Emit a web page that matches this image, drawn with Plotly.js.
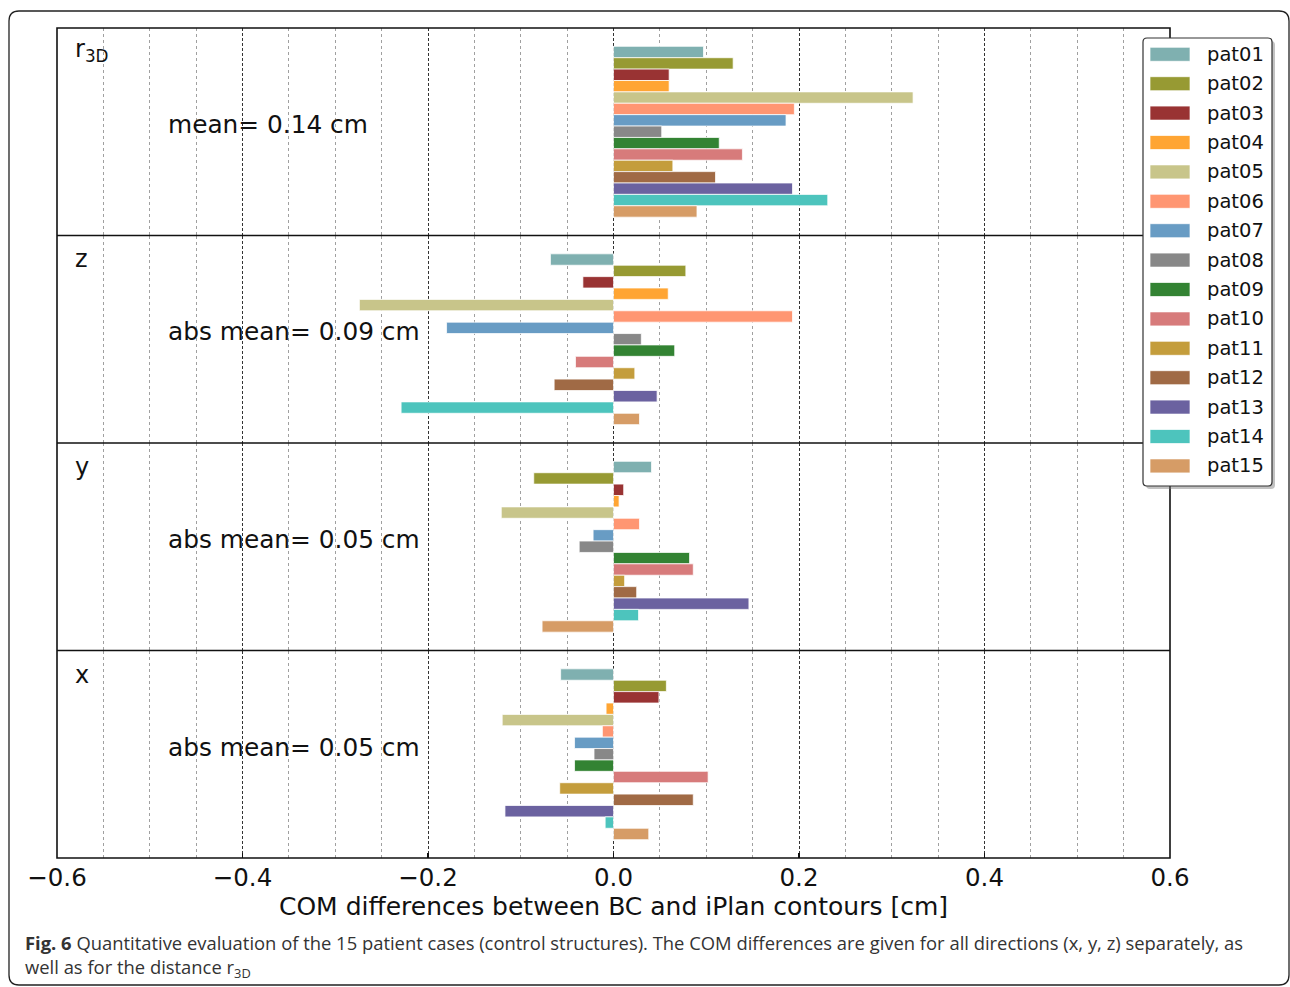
<!DOCTYPE html>
<html>
<head>
<meta charset="utf-8">
<script src="https://cdn.plot.ly/plotly-3.0.1.min.js"></script>
<style>html,body{margin:0;padding:0;background:#fff;}#chart{width:1290px;height:987px;}</style>
</head>
<body>
<div id="chart"></div>
<script>
// ---- data ----
const patients = ['pat01','pat02','pat03','pat04','pat05','pat06','pat07','pat08','pat09','pat10','pat11','pat12','pat13','pat14','pat15'];
const colors = ['#7FB0B0','#979A33','#993333','#FFA533','#C8C58A','#FF9672','#689CC4','#888888','#338333','#D77B7B','#C49D3C','#A06A45','#6B62A0','#4DC4BD','#D69C66'];
const panelNames = ['r<sub>3D</sub>','z','y','x'];
const meanLabels = ['mean= 0.14 cm','abs mean= 0.09 cm','abs mean= 0.05 cm','abs mean= 0.05 cm'];
const r3d   = [0.097,0.129,0.060,0.060,0.323,0.195,0.186,0.052,0.114,0.139,0.064,0.110,0.193,0.231,0.090];
const zDiff = [-0.068,0.078,-0.033,0.059,-0.274,0.193,-0.180,0.030,0.066,-0.041,0.023,-0.064,0.047,-0.229,0.028];
const yDiff = [0.041,-0.086,0.011,0.006,-0.121,0.028,-0.022,-0.037,0.082,0.086,0.012,0.025,0.146,0.027,-0.077];
const xDiff = [-0.057,0.057,0.049,-0.008,-0.120,-0.012,-0.042,-0.021,-0.042,0.102,-0.058,0.086,-0.117,-0.009,0.038];
const xTitle = 'COM differences between BC and iPlan contours [cm]';
const captionLine1 = '<b>Fig. 6</b> Quantitative evaluation of the 15 patient cases (control structures). The COM differences are given for all directions (x, y, z) separately, as';
const captionLine2 = 'well as for the distance r<sub>3D</sub>';

const panelValues = [r3d, zDiff, yDiff, xDiff];

// ---- geometry helpers (pixel -> paper) ----
const W = 1290, H = 987;
const mL = 57, mR = 120, mT = 28, mB = 129;
const pw = W - mL - mR, ph = H - mT - mB;
const px = x => (x - mL) / pw;
const py = y => (H - mB - y) / ph;

function roundRect(x0, y0, x1, y1, r) {
  const P = (x, y) => px(x).toFixed(5) + ',' + py(y).toFixed(5);
  return 'M' + P(x0 + r, y0) + ' L' + P(x1 - r, y0) + ' Q' + P(x1, y0) + ' ' + P(x1, y0 + r) +
    ' L' + P(x1, y1 - r) + ' Q' + P(x1, y1) + ' ' + P(x1 - r, y1) +
    ' L' + P(x0 + r, y1) + ' Q' + P(x0, y1) + ' ' + P(x0, y1 - r) +
    ' L' + P(x0, y0 + r) + ' Q' + P(x0, y0) + ' ' + P(x0 + r, y0) + ' Z';
}

const FONT = 'DejaVu Sans';
const traces = [];
panelValues.forEach((vals, k) => {
  patients.forEach((name, i) => {
    traces.push({
      type: 'bar', orientation: 'h',
      x: [vals[i]], y: [i], width: 1,
      name: name, legendgroup: name, showlegend: false,
      yaxis: k === 0 ? 'y' : 'y' + (k + 1), xaxis: 'x',
      marker: {color: colors[i], line: {color: 'rgba(255,255,255,0.75)', width: 1}},
      hovertemplate: name + ': %{x:.3f}<extra></extra>'
    });
  });
});

const yRange = [patients.length - 1 + 2.11, -2.11];
const yBase = {range: yRange, showticklabels: false, showgrid: false, zeroline: false, ticks: '', anchor: 'x', showline: false, fixedrange: true};

const shapes = [];
const annotations = [];

// outer figure frame
shapes.push({type: 'path', xref: 'paper', yref: 'paper', path: roundRect(9, 11, 1289, 985, 10), line: {color: '#222', width: 1.3}, fillcolor: 'rgba(0,0,0,0)', layer: 'below'});
// plot frame + panel separators
shapes.push({type: 'rect', xref: 'paper', yref: 'paper', x0: 0, x1: 1, y0: 0, y1: 1, line: {color: '#111', width: 1.6}, layer: 'above'});
[0.25, 0.5, 0.75].forEach(v => shapes.push({type: 'line', xref: 'paper', yref: 'paper', x0: 0, x1: 1, y0: v, y1: v, line: {color: '#111', width: 1.6}, layer: 'above'}));

// panel labels and mean labels
const panelTops = [50, 259, 467, 675];
const meanY = [124, 331, 539, 747];
panelNames.forEach((t, k) => {
  annotations.push({xref: 'paper', yref: 'paper', x: px(73), y: py(panelTops[k]), xanchor: 'left', yanchor: 'middle', text: t, showarrow: false, font: {family: FONT, size: 24, color: '#111'}});
  annotations.push({xref: 'paper', yref: 'paper', x: px(166), y: py(meanY[k]), xanchor: 'left', yanchor: 'middle', text: meanLabels[k], showarrow: false, font: {family: FONT, size: 24.8, color: '#111'}});
});

// custom legend
const lgL = 1143, lgT = 38, lgR = 1272, lgB = 486;
shapes.push({type: 'path', xref: 'paper', yref: 'paper', path: roundRect(lgL + 3, lgT + 3, lgR + 3, lgB + 3, 4), line: {width: 0}, fillcolor: 'rgba(120,120,120,0.45)', layer: 'above'});
shapes.push({type: 'path', xref: 'paper', yref: 'paper', path: roundRect(lgL, lgT, lgR, lgB, 4), line: {color: '#333', width: 1.2}, fillcolor: '#ffffff', layer: 'above'});
patients.forEach((name, i) => {
  const cy = 54.3 + i * 29.4;
  shapes.push({type: 'rect', xref: 'paper', yref: 'paper', x0: px(1150), x1: px(1190), y0: py(cy - 7), y1: py(cy + 7), line: {color: 'rgba(255,255,255,0.7)', width: 1}, fillcolor: colors[i], layer: 'above'});
  annotations.push({xref: 'paper', yref: 'paper', x: px(1205), y: py(cy), xanchor: 'left', yanchor: 'middle', text: name, showarrow: false, font: {family: FONT, size: 19.5, color: '#111'}});
});

// caption
annotations.push({xref: 'paper', yref: 'paper', x: px(23), y: py(942), xanchor: 'left', yanchor: 'middle', text: captionLine1, showarrow: false, font: {family: 'Open Sans', size: 18.4, color: '#333'}});
annotations.push({xref: 'paper', yref: 'paper', x: px(23), y: py(968), xanchor: 'left', yanchor: 'middle', text: captionLine2, showarrow: false, font: {family: 'Open Sans', size: 18.4, color: '#333'}});

const layout = {
  width: W, height: H,
  margin: {l: mL, r: mR, t: mT, b: mB, pad: 0},
  paper_bgcolor: '#fff', plot_bgcolor: '#fff',
  barmode: 'overlay', showlegend: false,
  font: {family: FONT, color: '#111'},
  xaxis: {
    anchor: 'y4', range: [-0.6, 0.6], tick0: 0, dtick: 0.2, tickformat: '.1f',
    showgrid: true, gridcolor: '#333', griddash: '3px,2px', gridwidth: 1,
    minor: {dtick: 0.05, tick0: 0, showgrid: true, gridcolor: '#a0a0a0', griddash: 'dot', gridwidth: 1, ticks: ''},
    zeroline: false, showline: false,
    ticks: 'inside', ticklen: 5, tickwidth: 1.5, tickcolor: '#111',
    ticklabelstandoff: 2,
    tickfont: {family: FONT, size: 24.5, color: '#111'},
    title: {text: xTitle, font: {family: FONT, size: 25, color: '#111'}, standoff: 5},
    fixedrange: true
  },
  yaxis: Object.assign({}, yBase, {domain: [0.75, 1]}),
  yaxis2: Object.assign({}, yBase, {domain: [0.5, 0.75]}),
  yaxis3: Object.assign({}, yBase, {domain: [0.25, 0.5]}),
  yaxis4: Object.assign({}, yBase, {domain: [0, 0.25]}),
  shapes: shapes,
  annotations: annotations
};

Plotly.newPlot('chart', traces, layout, {displayModeBar: false, staticPlot: true});
</script>
</body>
</html>
